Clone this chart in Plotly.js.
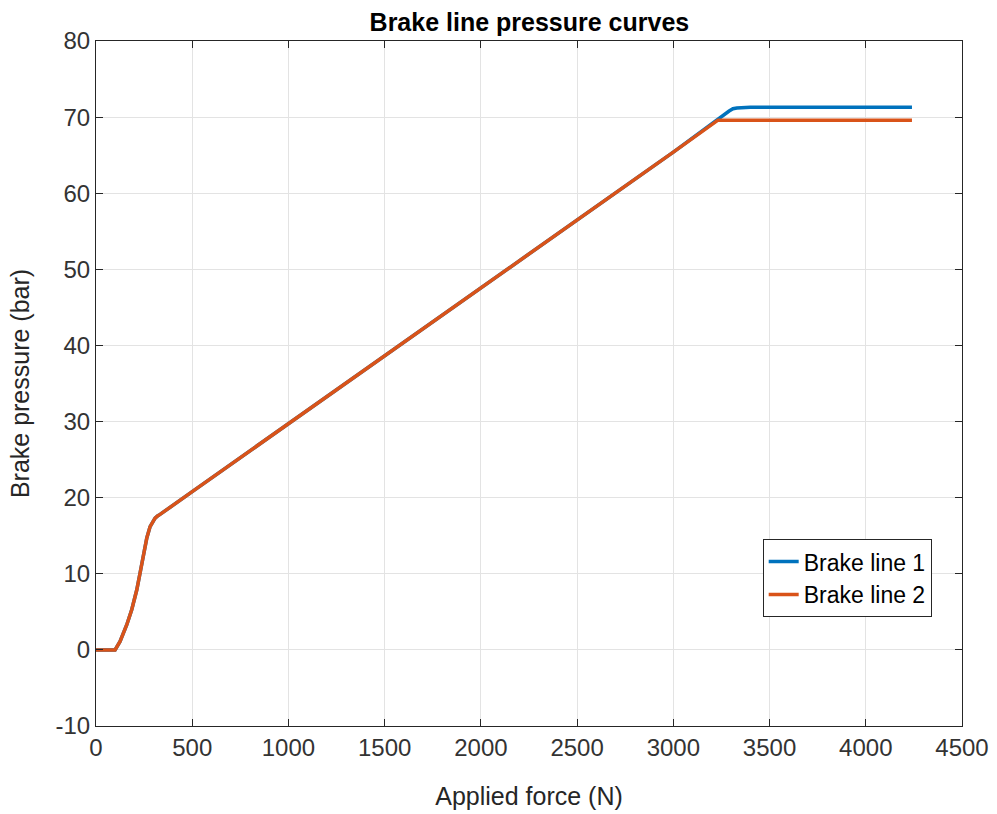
<!DOCTYPE html>
<html><head><meta charset="utf-8">
<script src="https://cdn.plot.ly/plotly-3.0.1.min.js"></script>
<style>body{margin:0;background:#fff}#c{width:997px;height:814px}</style>
</head><body><div id="c"></div>
<script>
const force1 = [0, 99, 125, 160, 186, 212, 229, 247, 264, 281, 296, 307, 320, 333, 500, 1000, 1500, 2000, 2500, 3000, 3290, 3310, 3330, 3400, 4240];
const pressure1 = [0, 0, 1.1, 3.3, 5.3, 7.9, 10.1, 12.7, 14.7, 16.2, 16.9, 17.3, 17.6, 17.8, 20.8, 29.7, 38.6, 47.6, 56.5, 65.4, 70.8, 71.1, 71.2, 71.3, 71.3];
const force2 = [0, 99, 125, 160, 186, 212, 229, 247, 264, 281, 296, 307, 320, 333, 500, 1000, 1500, 2000, 2500, 3000, 3232, 4240];
const pressure2 = [0, 0, 1.1, 3.3, 5.3, 7.9, 10.1, 12.7, 14.7, 16.2, 16.9, 17.3, 17.6, 17.8, 20.8, 29.7, 38.6, 47.6, 56.5, 65.4, 69.6, 69.6];
const seriesNames = ["Brake line 1", "Brake line 2"];
const xTicks = [0, 500, 1000, 1500, 2000, 2500, 3000, 3500, 4000, 4500];
const yTicks = [-10, 0, 10, 20, 30, 40, 50, 60, 70, 80];

const fam = "Liberation Sans, Arial, sans-serif";
const axisCommon = {
  showline: true, linecolor: "#262626", linewidth: 1, mirror: "ticks",
  ticks: "inside", ticklen: 7, tickcolor: "#262626",
  showgrid: true, gridcolor: "#e3e3e3", gridwidth: 1, zeroline: false,
  tickfont: {family: fam, size: 24, color: "#333333"}
};
const data = [
  {x: force1, y: pressure1, name: seriesNames[0], type: "scatter", mode: "lines",
   line: {color: "#0072BD", width: 3.5}},
  {x: force2, y: pressure2, name: seriesNames[1], type: "scatter", mode: "lines",
   line: {color: "#D95319", width: 3.5}}
];
const layout = {
  width: 997, height: 814,
  margin: {l: 96, r: 35, t: 41, b: 88},
  paper_bgcolor: "#fff", plot_bgcolor: "#fff",
  font: {family: fam, size: 24, color: "#262626"},
  title: {text: "<b>Brake line pressure curves</b>", x: 0.531, xanchor: "center", y: 0.973, yanchor: "middle",
          font: {family: fam, size: 25, color: "#000"}},
  xaxis: Object.assign({}, axisCommon, {range: [0, 4500], tickvals: xTicks, ticktext: xTicks.map(String),
    title: {text: "Applied force (N)", font: {family: fam, size: 25, color: "#262626"}, standoff: 27}}),
  yaxis: Object.assign({}, axisCommon, {range: [-10, 80], tickvals: yTicks, ticktext: yTicks.map(String),
    title: {text: "Brake pressure (bar)", font: {family: fam, size: 25, color: "#262626"}, standoff: 18}}),
  legend: {x: 0.965, xanchor: "right", y: 0.159, yanchor: "bottom",
    bgcolor: "#fff", bordercolor: "#262626", borderwidth: 1,
    font: {family: fam, size: 23, color: "#000"}, tracegroupgap: 0},
  showlegend: true
};
Plotly.newPlot("c", data, layout, {staticPlot: true});
</script></body></html>
